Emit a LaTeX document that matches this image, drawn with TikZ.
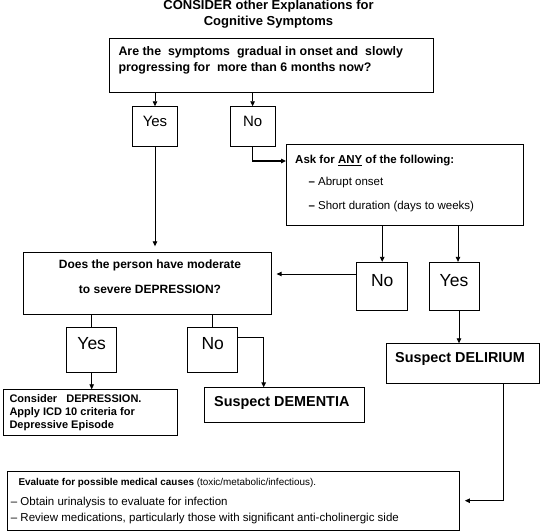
\documentclass[tikz,border=0pt]{standalone}
\usepackage{fontspec}
\setmainfont{Liberation Sans}
\usetikzlibrary{arrows.meta}

\begin{document}
\begin{tikzpicture}[x=1pt, y=-1pt,
    box/.style={draw, line width=0.9pt, anchor=north west, inner sep=0pt},
    ans/.style={box, anchor=center, text height=10pt, text depth=10pt},
    txt/.style={inner sep=0pt, anchor=base west, align=left},
    arr/.style={line width=0.8pt, -{Triangle[length=5pt,width=4.5pt]}},
    link/.style={line width=0.8pt}]

\useasboundingbox (0,0) rectangle (540,531);

% title (multi-line texts are placed at their last baseline)
\node[txt, anchor=base, align=center, font=\bfseries\fontsize{13}{15.5}\selectfont] (title) at (268.5,25) {CONSIDER other Explanations for\\Cognitive Symptoms};

% question and result boxes
\node[box, minimum width=324pt, minimum height=53.4pt] (q1) at (108.7,38.3) {};
\node[box, minimum width=236.7pt, minimum height=80.7pt] (ask) at (286,144.3) {};
\node[box, minimum width=247.4pt, minimum height=61.7pt] (q2) at (23.3,252.3) {};
\node[box, minimum width=153pt, minimum height=40pt] (delirium) at (386,343.3) {};
\node[box, minimum width=173.4pt, minimum height=45.2pt] (consider) at (3.3,389.3) {};
\node[box, minimum width=160.3pt, minimum height=34.4pt] (dementia) at (204,387.3) {};
\node[box, minimum width=452.3pt, minimum height=59.5pt] (evaluate) at (6.7,470.5) {};

% yes / no boxes
\foreach \n/\x/\y/\w/\h/\s/\t in {yes1/155/126.7/44.6/40/15/Yes, no1/252.6/126.7/45.3/40/15/No,
    no2/382.2/286.5/51/48.4/17.5/No, yes2/454/286.5/50/48.4/17.5/Yes,
    yes3/91.7/349.7/50/44.7/17.5/Yes, no3/212.7/349.7/50/44.7/17.5/No}
    {
        \node[ans, minimum width=\w pt, minimum height=\h pt, font=\fontsize{\s}{\s}\selectfont] (\n) at (\x,\y) {\t};
    }

% texts
\node[txt, font=\bfseries\fontsize{12.4}{16}\selectfont] (q1txt) at (118.3,71) {Are the\ \ symptoms\ \ gradual in onset and\ \ slowly\\progressing for\ \ more than 6 months now?};
\node[txt, font=\bfseries\fontsize{11.5}{14}\selectfont] (asktxt) at (295,163.3) {Ask for \underline{ANY} of the following:};
\node[txt, font=\fontsize{11.5}{24.3}\selectfont] (asklist) at (308.3,209.3) {\textbf{--} Abrupt onset\\\textbf{--} Short duration (days to weeks)};
\node[txt, anchor=base, align=center, font=\bfseries\fontsize{12}{25}\selectfont] (q2txt) at (150,293.3) {Does the person have moderate\\to severe DEPRESSION?};
\node[txt, font=\bfseries\fontsize{14.4}{16}\selectfont] (delitxt) at (395,362.3) {Suspect DELIRIUM};
\node[txt, font=\bfseries\fontsize{14.4}{16}\selectfont] (demtxt) at (214,406.7) {Suspect DEMENTIA};
\node[txt, font=\bfseries\fontsize{11}{12.8}\selectfont] (constxt) at (9.3,428.3) {Consider\ \ \ DEPRESSION.\\Apply ICD 10 criteria for\\Depressive Episode};
\node[txt, font=\fontsize{9.9}{12}\selectfont] (evaltxt) at (18.3,485) {\textbf{Evaluate for possible medical causes} (toxic/metabolic/infectious).};
\node[txt, font=\fontsize{11.5}{16.7}\selectfont] (evallist) at (10.7,521.7) {-- Obtain urinalysis to evaluate for infection\\-- Review medications, particularly those with significant anti-cholinergic side};

% connectors
\draw[arr] (q1.south -| yes1) -- (yes1.north);
\draw[arr] (q1.south -| no1) -- (no1.north);
\draw[arr, line width=1.6pt] (no1.south) |- ([yshift=-16.7pt]ask.north west);
\draw[arr, shorten >=6pt] (yes1.south) -- (yes1.south |- q2.north);
\draw[arr] (ask.south -| no2) -- (no2.north);
\draw[arr] ([xshift=4pt]ask.south -| yes2) -- ([xshift=4pt]yes2.north);
\draw[arr, shorten >=5pt] ([yshift=12.5pt]no2.west) -- ([yshift=12.5pt]no2.west -| q2.east);
\draw[arr] ([xshift=5pt]yes2.south) -- ([xshift=5pt]yes2.south |- delirium.north);
\draw[link] (q2.south -| yes3) -- (yes3.north);
\draw[link] (q2.south -| no3) -- (no3.north);
\draw[arr] (yes3.south) -- (yes3.south |- consider.north);
\draw[arr, line width=1.4pt] ([yshift=12.4pt]no3.east) -| ([xshift=-20.9pt]dementia.north);
\draw[arr, shorten >=5pt] ([xshift=40pt]delirium.south) |- (evaluate.east);
\end{tikzpicture}
\end{document}
